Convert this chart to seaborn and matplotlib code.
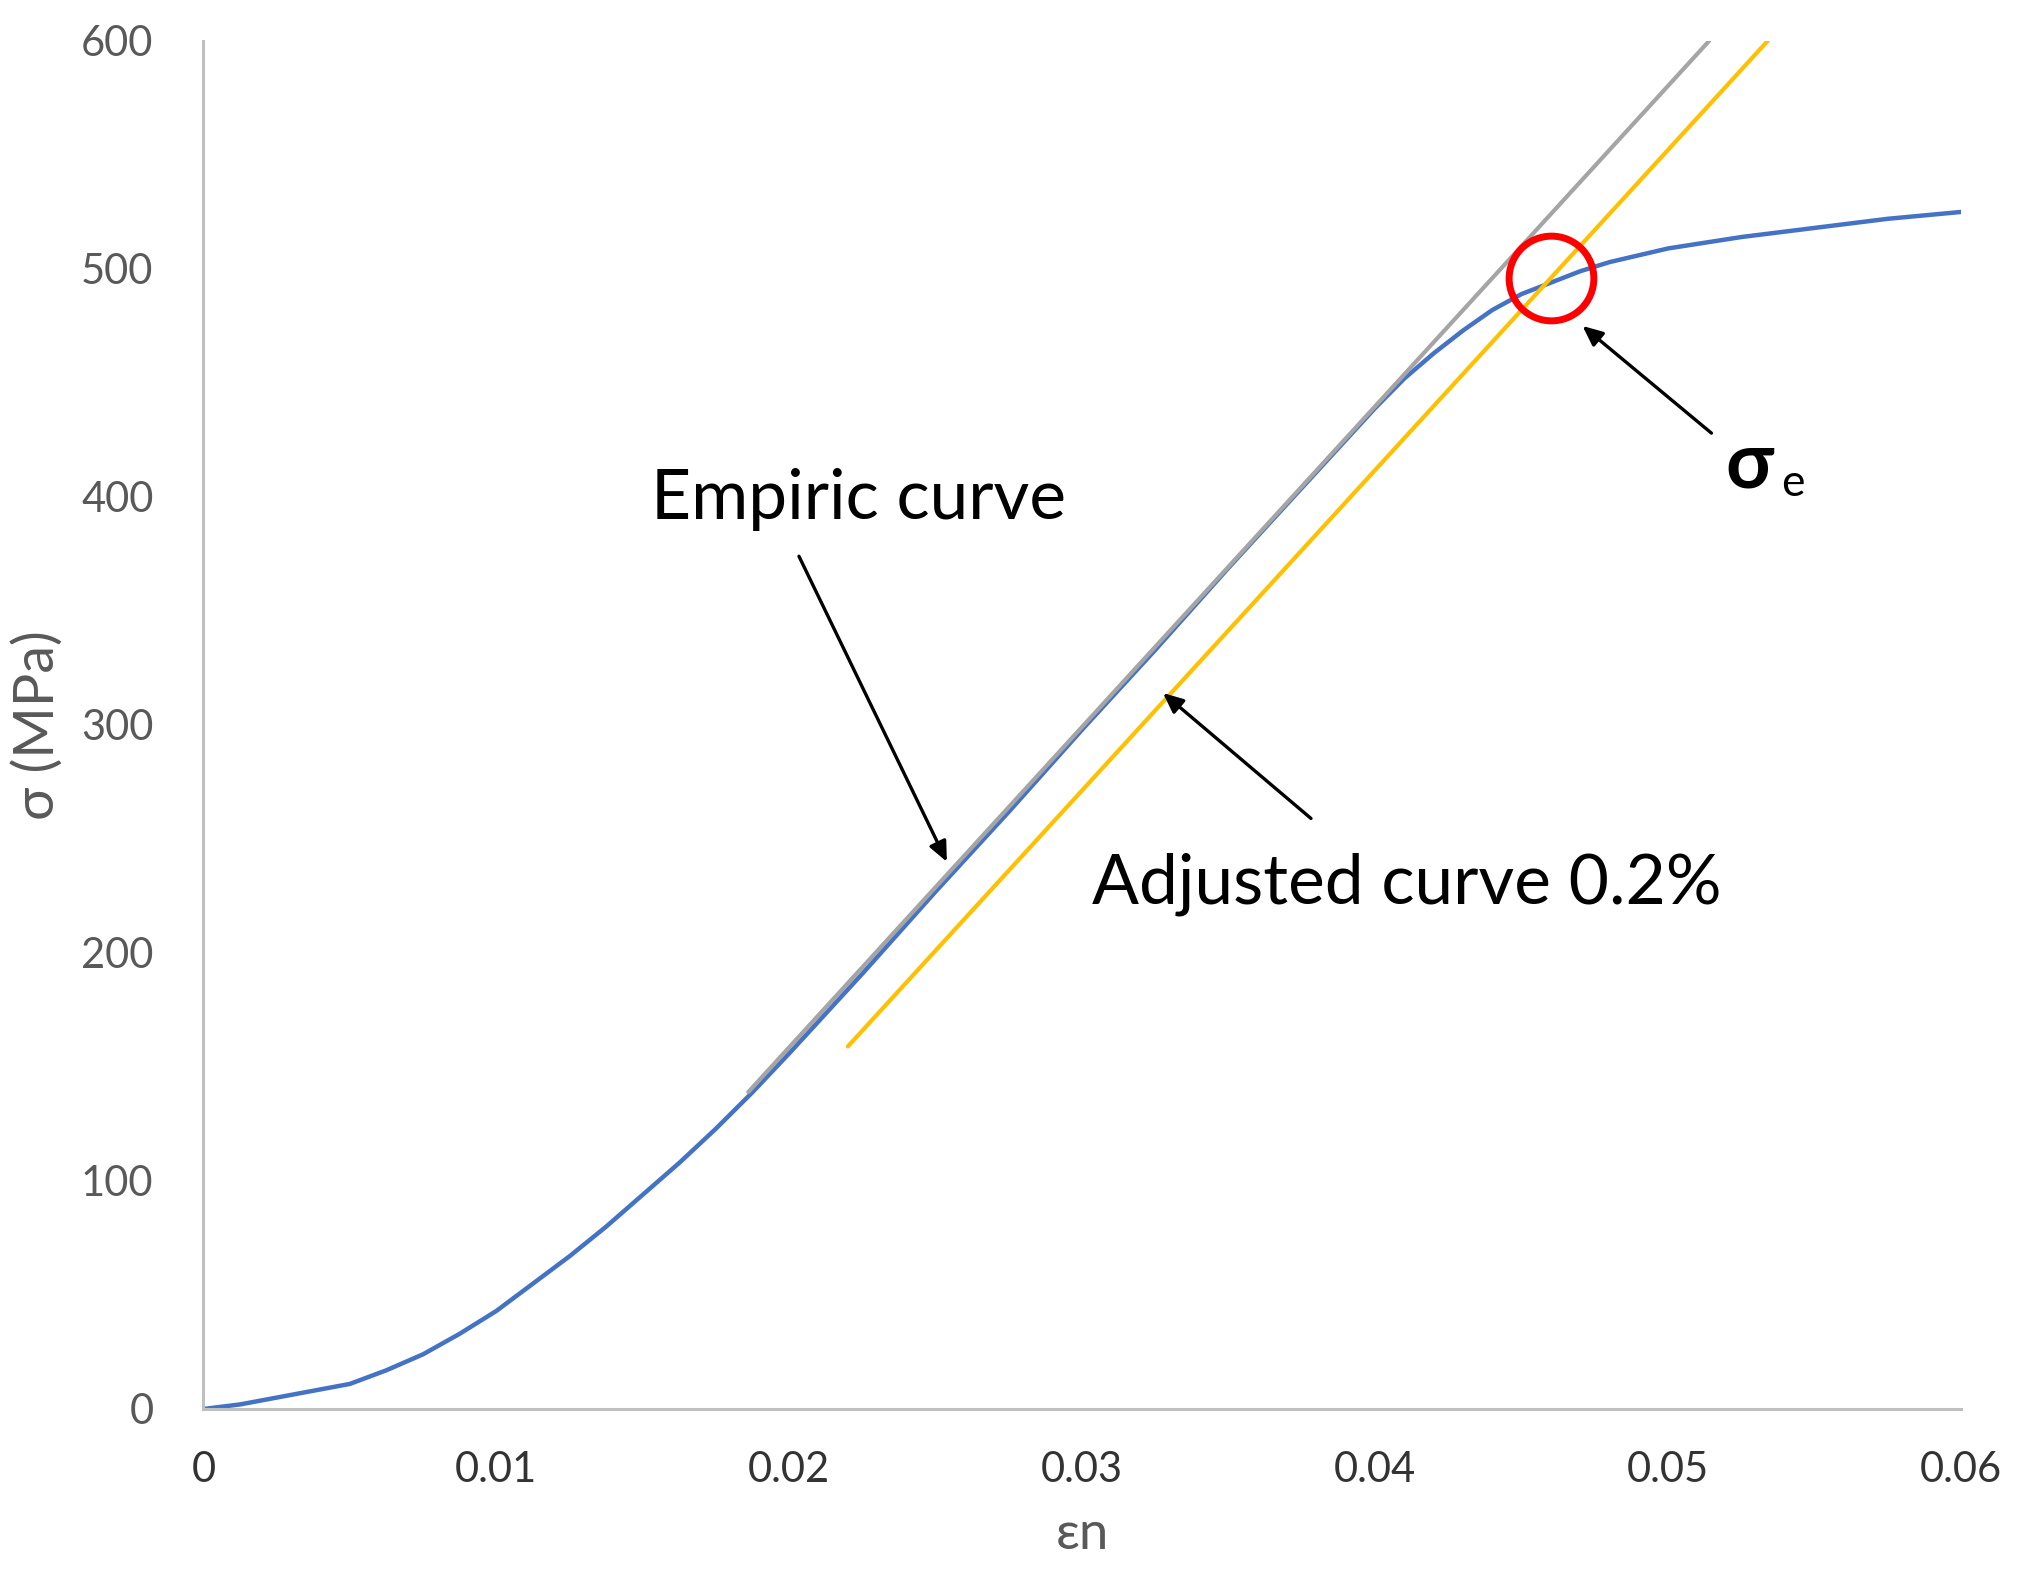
import matplotlib
matplotlib.use('Agg')
import matplotlib.pyplot as plt
import seaborn as sns
import pandas as pd

# data
strain = [0, 0.00125, 0.0025, 0.00375, 0.005, 0.00625, 0.0075, 0.00875, 0.01,
          0.01125, 0.0125, 0.01375, 0.015, 0.01625, 0.0175, 0.01875, 0.02, 0.0225,
          0.025, 0.0275, 0.03, 0.0325, 0.035, 0.0375, 0.04, 0.041, 0.042, 0.043,
          0.044, 0.045, 0.046, 0.047, 0.048, 0.049, 0.05, 0.0525, 0.055, 0.0575, 0.06]
stress = [0, 2, 5, 8, 11, 17, 24, 33, 43,
          55, 67, 80, 94, 108, 123, 139, 156, 191,
          227, 262, 298, 333, 369, 404, 439, 452, 463, 473,
          482, 489, 494, 499, 503, 506, 509, 514, 518, 522, 525]

elastic_x = [0.0186, 0.0514]
elastic_y = [139, 600]
offset_x = [0.0220, 0.0534]
offset_y = [159, 600]

sigma_e = (0.0460, 496)

x_ticks = [0, 0.01, 0.02, 0.03, 0.04, 0.05, 0.06]
x_labels = ['0', '0.01', '0.02', '0.03', '0.04', '0.05', '0.06']
y_ticks = [0, 100, 200, 300, 400, 500, 600]

sns.set_theme(style='white')
plt.rcParams['font.family'] = ['Lato', 'DejaVu Sans']

fig = plt.figure(figsize=(20.2, 15.75), dpi=100)
ax = fig.add_axes([0.1007, 0.1054, 0.8701, 0.8686])

curve = pd.DataFrame({'x': strain, 'y': stress})
sns.lineplot(data=curve, x='x', y='y', ax=ax, color='#4472C4', linewidth=3.2,
             estimator=None, sort=False)
sns.lineplot(x=elastic_x, y=elastic_y, ax=ax, color='#A5A5A5', linewidth=3,
             estimator=None, sort=False)
sns.lineplot(x=offset_x, y=offset_y, ax=ax, color='#FFC000', linewidth=3,
             estimator=None, sort=False)
for ln in ax.lines:
    ln.set_solid_joinstyle('round')
    ln.set_solid_capstyle('round')

# red ring at the yield point
ax.plot([sigma_e[0]], [sigma_e[1]], marker='o', markersize=61, markerfacecolor='none',
        markeredgecolor='#FF0000', markeredgewidth=5, linestyle='none', clip_on=False)

arrow = dict(arrowstyle='-|>,head_length=1.0,head_width=0.45', color='black', lw=2.4,
             shrinkA=0, shrinkB=0)
ax.annotate('', xy=(0.02538, 240), xytext=(0.02033, 374), arrowprops=arrow)
ax.annotate('', xy=(0.03276, 314), xytext=(0.03781, 259), arrowprops=arrow)
ax.annotate('', xy=(0.04708, 475), xytext=(0.05148, 428), arrowprops=arrow)

ax.text(0.02238, 399, 'Empiric curve', fontsize=50, ha='center', va='center', color='black')
ax.text(0.04109, 230, 'Adjusted curve 0.2%', fontsize=50, ha='center', va='center', color='black')
ax.text(0.05277, 414, 'σ', fontsize=56, fontweight='bold', ha='center', va='center', color='black')
ax.text(0.05425, 406, 'e', fontsize=32, ha='center', va='center', color='black')

ax.set_xlim(0, 0.06)
ax.set_ylim(0, 600)
ax.set_xticks(x_ticks)
ax.set_xticklabels(x_labels)
ax.set_yticks(y_ticks)
ax.tick_params(axis='x', length=0, pad=30, labelsize=30, labelcolor='#333333')
ax.tick_params(axis='y', length=0, pad=36, labelsize=30, labelcolor='#595959')

ax.set_xlabel('εn', fontsize=38, color='#595959', labelpad=16)
ax.set_ylabel('σ (MPa)', fontsize=40, color='#595959', labelpad=12)

sns.despine(ax=ax)
for side in ['left', 'bottom']:
    ax.spines[side].set_color('#BFBFBF')
    ax.spines[side].set_linewidth(2.2)

fig.savefig('out.png', dpi=100, facecolor='white')
